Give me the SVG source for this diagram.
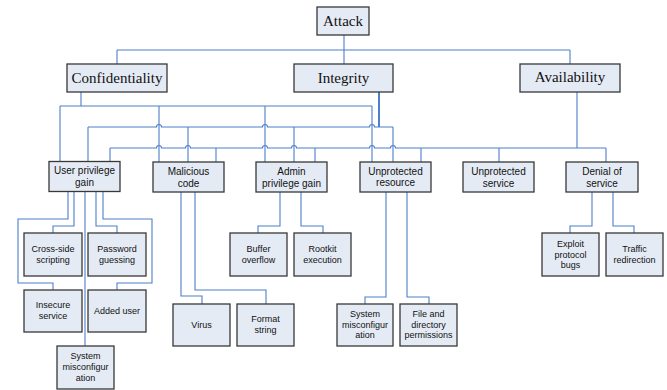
<svg xmlns="http://www.w3.org/2000/svg" width="667" height="390" viewBox="0 0 667 390">
<style>
.box{fill:#e5ebf5;stroke:#383838;stroke-width:1.3}
.c{fill:none;stroke:#4d7fca;stroke-width:1.1}
.top{font-family:"Liberation Serif","Times New Roman",serif;font-size:15px;fill:#111;text-anchor:middle}
.mid{font-family:"Liberation Sans",Arial,sans-serif;font-size:10px;fill:#111;text-anchor:middle}
.leaf{font-family:"Liberation Sans",Arial,sans-serif;font-size:9px;fill:#111;text-anchor:middle}
</style>
<rect width="667" height="390" fill="#fff"/>
<g id="connectors">
<path class="c" d="M344,35 V64 M117,50 H570 M117,50 V64 M570,50 V64"/>
<path class="c" d="M81,92 V106 M60,106 H372 M60,106 V161 M159,106 V162 M265,106 V162 M372,106 V162"/>
<path class="c" style="stroke-width:2" d="M379,92 V127"/>
<path class="c" d="M88,127 H156.5 a2.5,2.5 0 0 1 5,0 H262.5 a2.5,2.5 0 0 1 5,0 H369.5 a2.5,2.5 0 0 1 5,0 H393 M88,127 V161 M188,127 V162 M294,127 V162 M393,127 V162"/>
<path class="c" d="M577,92 V148 M110,148 H156.5 a2.5,2.5 0 0 1 5,0 H185.5 a2.5,2.5 0 0 1 5,0 H262.5 a2.5,2.5 0 0 1 5,0 H291.5 a2.5,2.5 0 0 1 5,0 H369.5 a2.5,2.5 0 0 1 5,0 H390.5 a2.5,2.5 0 0 1 5,0 H606 M110,148 V161 M216,148 V162 M315,148 V162 M421,148 V162 M499,148 V162 M606,148 V162"/>
<path class="c" d="M68,192 V219 H18 V283 H53 V290 M74,192 V226 H53 V233 M85,192 V346 M96,192 V226 H117 V233 M103,192 V219 H152 V283 H117 V290"/>
<path class="c" d="M181,192 V296 H202 V304 M195,192 V290 H266 V304"/>
<path class="c" d="M280,192 V226 H258 V233 M301,192 V226 H323 V233"/>
<path class="c" d="M386,192 V297 H365 V304 M407,192 V297 H429 V304"/>
<path class="c" d="M592,192 V226 H570 V233 M613,192 V226 H634 V233"/>
</g>
<g id="attack"><rect class="box" x="317" y="7" width="52" height="28"/><text class="top" x="343" y="26">Attack</text></g>
<g id="confidentiality"><rect class="box" x="67" y="64" width="100" height="28"/><text class="top" x="117" y="83">Confidentiality</text></g>
<g id="integrity"><rect class="box" x="294" y="64" width="99" height="28"/><text class="top" x="343.5" y="83">Integrity</text></g>
<g id="availability"><rect class="box" x="520" y="64" width="100" height="28"/><text class="top" x="570" y="82">Availability</text></g>
<g id="user-privilege-gain"><rect class="box" x="49" y="161.5" width="71" height="30"/><text class="mid" x="84.5" y="174">User privilege</text><text class="mid" x="84.5" y="186">gain</text></g>
<g id="malicious-code"><rect class="box" x="153" y="162" width="71" height="30"/><text class="mid" x="188.5" y="174.5">Malicious</text><text class="mid" x="188.5" y="186.5">code</text></g>
<g id="admin-privilege-gain"><rect class="box" x="256" y="162" width="71" height="30"/><text class="mid" x="291.5" y="174.5">Admin</text><text class="mid" x="291.5" y="186.5">privilege gain</text></g>
<g id="unprotected-resource"><rect class="box" x="360" y="162" width="71" height="30"/><text class="mid" x="395.5" y="174.5">Unprotected</text><text class="mid" x="395.5" y="186">resource</text></g>
<g id="unprotected-service"><rect class="box" x="463" y="162" width="71" height="30"/><text class="mid" x="498.5" y="174.5">Unprotected</text><text class="mid" x="498.5" y="186.5">service</text></g>
<g id="denial-of-service"><rect class="box" x="566" y="162" width="72" height="30"/><text class="mid" x="602" y="174.5">Denial of</text><text class="mid" x="602" y="186.5">service</text></g>
<g id="cross-side-scripting"><rect class="box" x="24" y="233" width="58" height="43"/><text class="leaf" x="53" y="252">Cross-side</text><text class="leaf" x="53" y="262.5">scripting</text></g>
<g id="password-guessing"><rect class="box" x="88" y="233" width="58" height="43"/><text class="leaf" x="117" y="252">Password</text><text class="leaf" x="117" y="262.5">guessing</text></g>
<g id="insecure-service"><rect class="box" x="24" y="290" width="58" height="42"/><text class="leaf" x="53" y="308">Insecure</text><text class="leaf" x="53" y="318.5">service</text></g>
<g id="added-user"><rect class="box" x="88" y="290" width="58" height="42"/><text class="leaf" x="117" y="313.5">Added user</text></g>
<g id="system-misconfiguration-1"><rect class="box" x="57" y="346" width="57" height="43"/><text class="leaf" x="85.5" y="359">System</text><text class="leaf" x="85.5" y="370">misconfigur</text><text class="leaf" x="85.5" y="381">ation</text></g>
<g id="virus"><rect class="box" x="173" y="304" width="57" height="42"/><text class="leaf" x="201.5" y="327.5">Virus</text></g>
<g id="format-string"><rect class="box" x="237" y="304" width="57" height="42"/><text class="leaf" x="265.5" y="322">Format</text><text class="leaf" x="265.5" y="332.5">string</text></g>
<g id="buffer-overflow"><rect class="box" x="230" y="233" width="57" height="43"/><text class="leaf" x="258.5" y="252">Buffer</text><text class="leaf" x="258.5" y="262.5">overflow</text></g>
<g id="rootkit-execution"><rect class="box" x="294" y="233" width="57" height="43"/><text class="leaf" x="322.5" y="252">Rootkit</text><text class="leaf" x="322.5" y="262.5">execution</text></g>
<g id="system-misconfiguration-2"><rect class="box" x="337" y="304" width="56" height="42"/><text class="leaf" x="365" y="317">System</text><text class="leaf" x="365" y="328">misconfigur</text><text class="leaf" x="365" y="338">ation</text></g>
<g id="file-and-directory-permissions"><rect class="box" x="400" y="304" width="57" height="42"/><text class="leaf" x="428.5" y="317">File and</text><text class="leaf" x="428.5" y="328">directory</text><text class="leaf" x="428.5" y="338">permissions</text></g>
<g id="exploit-protocol-bugs"><rect class="box" x="542" y="233" width="57" height="43"/><text class="leaf" x="570.5" y="247">Exploit</text><text class="leaf" x="570.5" y="257.5">protocol</text><text class="leaf" x="570.5" y="268">bugs</text></g>
<g id="traffic-redirection"><rect class="box" x="606" y="233" width="57" height="43"/><text class="leaf" x="634.5" y="252">Traffic</text><text class="leaf" x="634.5" y="262.5">redirection</text></g>
</svg>
